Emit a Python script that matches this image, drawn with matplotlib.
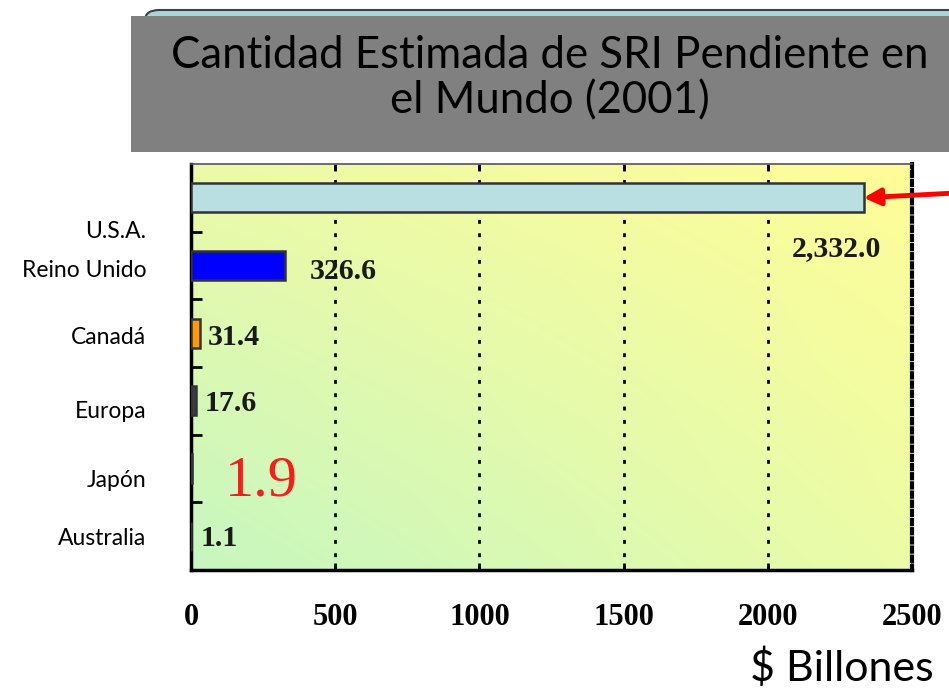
#!/usr/bin/env python3
"""Cantidad estimada de SRI pendiente en el mundo (2001) - horizontal bars."""

import matplotlib

matplotlib.use("Agg")
import matplotlib.pyplot as plt
import numpy as np
from matplotlib.patches import FancyBboxPatch, Rectangle

COUNTRIES = ["U.S.A.", "Reino Unido", "Canadá", "Europa", "Japón", "Australia"]
VALUES = [2332.0, 326.6, 31.4, 17.6, 1.9, 1.1]
VALUE_TEXTS = ["2,332.0", "326.6", "31.4", "17.6", "1.9", "1.1"]
BAR_COLORS = ["#b9dfe2", "#0000ff", "#ff9900", "#3c3c46", "#3c3c46", "#3c3c46"]
X_TICKS = [0, 500, 1000, 1500, 2000, 2500]

# layout only: where each country name and value label sits relative to its bar
NAME_SHIFT = [0.50, 0.07, 0.06, 0.16, 0.17, 0.03]
VALUE_OFFSET = [(-27, -51), (25, -6), (8, -4), (9, -3), (70, -13), (9, -2)]

SANS = ["Lato", "DejaVu Sans"]
SERIF = "Liberation Serif"

W, H = 949, 691
fig = plt.figure(figsize=(W / 100, H / 100), dpi=100)


def px_rect(x0, y0, x1, y1):
    return [x0 / W, 1 - y1 / H, (x1 - x0) / W, (y1 - y0) / H]


# title box
fig.patches.append(FancyBboxPatch((145 / W, 1 - 40 / H), 830 / W, 30 / H,
                                  boxstyle="round,pad=0,rounding_size=0.015",
                                  transform=fig.transFigure, facecolor="#a9d6d6",
                                  edgecolor="#404040", lw=1.5, zorder=0))
fig.patches.append(Rectangle((131 / W, 1 - 152 / H), (W - 131) / W, 136 / H,
                             transform=fig.transFigure, facecolor="#808080",
                             edgecolor="none", zorder=1))
fig.text(550 / W, 1 - 55 / H, "Cantidad Estimada de SRI Pendiente en",
         ha="center", va="center", fontsize=31.5, family=SANS, color="black", zorder=2)
fig.text(550 / W, 1 - 101 / H, "el Mundo (2001)",
         ha="center", va="center", fontsize=31.5, family=SANS, color="black", zorder=2)

ax = fig.add_axes(px_rect(191, 164, 912, 570))

# background gradient: green bottom-left to yellow top-right
tl = np.array([236, 250, 168]) / 255
tr = np.array([255, 253, 152]) / 255
bl = np.array([198, 247, 192]) / 255
br = np.array([236, 252, 166]) / 255
u = np.linspace(0, 1, 200)[None, :, None]
v = np.linspace(0, 1, 200)[:, None, None]
grad = (1 - v) * ((1 - u) * tl + u * tr) + v * ((1 - u) * bl + u * br)
ax.imshow(grad, extent=[0, 1, 0, 1], transform=ax.transAxes, aspect="auto",
          zorder=0, interpolation="bilinear")

pos = np.arange(len(COUNTRIES))
ax.barh(pos, VALUES, height=0.43, color=BAR_COLORS, edgecolor="#333333",
        linewidth=1.8, zorder=3)

ax.set_xlim(0, 2500)
ax.set_ylim(len(COUNTRIES) - 0.5, -0.5)

for x in X_TICKS[1:-1]:
    ax.axvline(x, color="black", lw=2.0, ls=(0, (1.4, 3.4)), zorder=2)

ax.set_xticks(X_TICKS)
ax.set_xticklabels([str(t) for t in X_TICKS], fontsize=22, fontweight="bold",
                   family=SERIF)
ax.tick_params(axis="x", direction="in", length=5, width=2, pad=24,
               top=True, colors="black")
ax.set_yticks([])
ax.set_yticks(pos[:-1] + 0.5, minor=True)
ax.tick_params(axis="y", which="minor", direction="in", length=8, width=2)

for side in ["left", "bottom"]:
    ax.spines[side].set_linewidth(2.5)
    ax.spines[side].set_color("black")
ax.spines["top"].set_linewidth(1.2)
ax.spines["top"].set_color("#555555")
ax.spines["right"].set_linewidth(3)
ax.spines["right"].set_linestyle((0, (1.0, 1.2)))

ytr = ax.get_yaxis_transform()
for i, name in enumerate(COUNTRIES):
    ax.text(-0.062, i + NAME_SHIFT[i], name, transform=ytr, ha="right",
            va="center", fontsize=16.5, family=SANS, clip_on=False)

for i, txt in enumerate(VALUE_TEXTS):
    dx, dy = VALUE_OFFSET[i]
    if COUNTRIES[i] == "Japón":
        ax.annotate(txt, (VALUES[i], i), xytext=(dx, dy), textcoords="offset pixels",
                    ha="center", va="center", fontsize=42, family=SERIF,
                    color="#ff1a1a", zorder=5)
    else:
        ax.annotate(txt, (VALUES[i], i), xytext=(dx, dy), textcoords="offset pixels",
                    ha="left" if dx > 0 else "center", va="center", fontsize=21.5,
                    fontweight="bold", family=SERIF, color="#1a1a1a", zorder=5)

# red arrow pointing at the U.S.A. bar
ax.annotate("", xy=(VALUES[0], 0), xytext=(95, 5), textcoords="offset pixels",
            arrowprops=dict(arrowstyle="-|>,head_length=1.0,head_width=0.5",
                            color="#ff0000", lw=3.5, shrinkA=0, shrinkB=0),
            annotation_clip=False, zorder=6)

fig.text(842 / W, 1 - 668 / H, "$ Billones", ha="center", va="center",
         fontsize=31, family=SANS)

fig.savefig("out.png", dpi=100)
